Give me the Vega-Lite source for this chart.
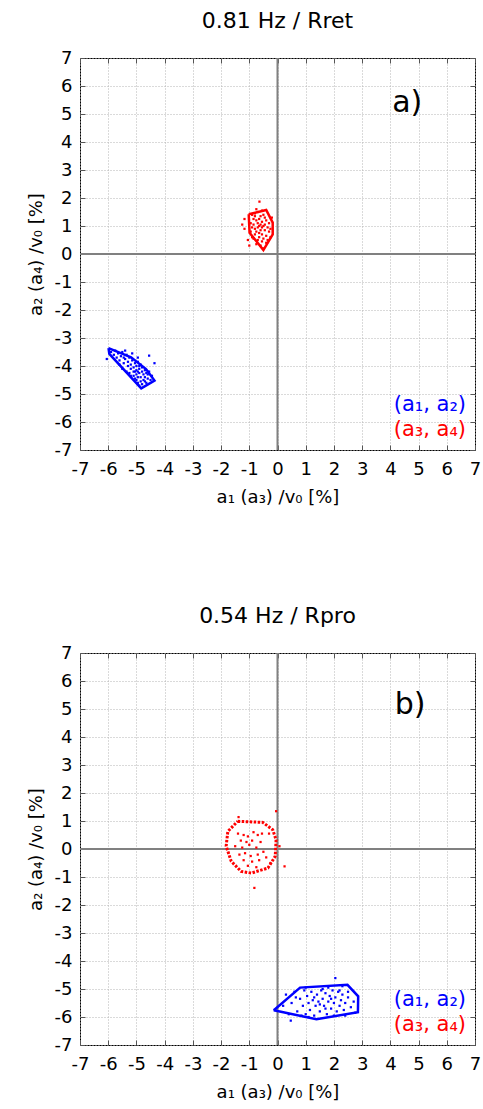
{
  "$schema": "https://vega.github.io/schema/vega-lite/v6.json",
  "padding": {"left": 26, "top": 9, "right": 4, "bottom": 4},
  "spacing": 97,
  "config": {
    "view": {"stroke": "black", "strokeWidth": 1},
    "font": "DejaVu Sans",
    "title": {"font": "DejaVu Sans", "fontSize": 22, "fontWeight": "normal", "color": "black", "offset": 16},
    "axis": {
      "labelFont": "DejaVu Sans", "labelFontSize": 18, "labelColor": "black",
      "titleFont": "DejaVu Sans", "titleFontSize": 18, "titleFontWeight": "normal", "titleColor": "black",
      "domain": false, "tickColor": "#555555", "tickSize": -5, "labelPadding": 15,
      "gridColor": "#b4b4b4", "gridDash": [1, 2], "gridWidth": 1,
      "labelFlush": false, "labelOverlap": false,
      "labelExpr": "datum.value < 0 ? '-' + abs(datum.value) : '' + datum.value"
    }
  },
  "datasets": {
    "hulls": [
      {"panel": "a", "pair": "(a1, a2)", "ord": 1, "x": -5.99, "y": -3.36},
      {"panel": "a", "pair": "(a1, a2)", "ord": 2, "x": -5.19, "y": -3.69},
      {"panel": "a", "pair": "(a1, a2)", "ord": 3, "x": -4.66, "y": -4.11},
      {"panel": "a", "pair": "(a1, a2)", "ord": 4, "x": -4.36, "y": -4.52},
      {"panel": "a", "pair": "(a1, a2)", "ord": 5, "x": -4.83, "y": -4.8},
      {"panel": "a", "pair": "(a1, a2)", "ord": 6, "x": -5.96, "y": -3.57},
      {"panel": "a", "pair": "(a1, a2)", "ord": 7, "x": -5.99, "y": -3.36},
      {"panel": "a", "pair": "(a3, a4)", "ord": 1, "x": -1.02, "y": 1.42},
      {"panel": "a", "pair": "(a3, a4)", "ord": 2, "x": -0.4, "y": 1.57},
      {"panel": "a", "pair": "(a3, a4)", "ord": 3, "x": -0.17, "y": 1.12},
      {"panel": "a", "pair": "(a3, a4)", "ord": 4, "x": -0.17, "y": 0.7},
      {"panel": "a", "pair": "(a3, a4)", "ord": 5, "x": -0.5, "y": 0.14},
      {"panel": "a", "pair": "(a3, a4)", "ord": 6, "x": -0.99, "y": 0.76},
      {"panel": "a", "pair": "(a3, a4)", "ord": 7, "x": -1.02, "y": 1.42},
      {"panel": "b", "pair": "(a1, a2)", "ord": 1, "x": -0.13, "y": -5.76},
      {"panel": "b", "pair": "(a1, a2)", "ord": 2, "x": 0.8, "y": -4.95},
      {"panel": "b", "pair": "(a1, a2)", "ord": 3, "x": 2.48, "y": -4.85},
      {"panel": "b", "pair": "(a1, a2)", "ord": 4, "x": 2.86, "y": -5.26},
      {"panel": "b", "pair": "(a1, a2)", "ord": 5, "x": 2.85, "y": -5.83},
      {"panel": "b", "pair": "(a1, a2)", "ord": 6, "x": 1.38, "y": -6.08},
      {"panel": "b", "pair": "(a1, a2)", "ord": 7, "x": -0.13, "y": -5.76},
      {"panel": "b", "pair": "(a3, a4)", "ord": 1, "x": -1.41, "y": 0.99},
      {"panel": "b", "pair": "(a3, a4)", "ord": 2, "x": -0.52, "y": 0.95},
      {"panel": "b", "pair": "(a3, a4)", "ord": 3, "x": -0.17, "y": 0.69},
      {"panel": "b", "pair": "(a3, a4)", "ord": 4, "x": -0.05, "y": 0.33},
      {"panel": "b", "pair": "(a3, a4)", "ord": 5, "x": -0.08, "y": -0.26},
      {"panel": "b", "pair": "(a3, a4)", "ord": 6, "x": -0.34, "y": -0.68},
      {"panel": "b", "pair": "(a3, a4)", "ord": 7, "x": -0.93, "y": -0.86},
      {"panel": "b", "pair": "(a3, a4)", "ord": 8, "x": -1.29, "y": -0.8},
      {"panel": "b", "pair": "(a3, a4)", "ord": 9, "x": -1.64, "y": -0.44},
      {"panel": "b", "pair": "(a3, a4)", "ord": 10, "x": -1.82, "y": 0.1},
      {"panel": "b", "pair": "(a3, a4)", "ord": 11, "x": -1.76, "y": 0.63},
      {"panel": "b", "pair": "(a3, a4)", "ord": 12, "x": -1.41, "y": 0.99}
    ],
    "dots": [
      {"panel": "a", "pair": "(a1, a2)", "x": -5.9, "y": -3.5},
      {"panel": "a", "pair": "(a1, a2)", "x": -5.8, "y": -3.6},
      {"panel": "a", "pair": "(a1, a2)", "x": -5.75, "y": -3.45},
      {"panel": "a", "pair": "(a1, a2)", "x": -5.7, "y": -3.7},
      {"panel": "a", "pair": "(a1, a2)", "x": -5.65, "y": -3.55},
      {"panel": "a", "pair": "(a1, a2)", "x": -5.6, "y": -3.8},
      {"panel": "a", "pair": "(a1, a2)", "x": -5.55, "y": -3.65},
      {"panel": "a", "pair": "(a1, a2)", "x": -5.5, "y": -3.5},
      {"panel": "a", "pair": "(a1, a2)", "x": -5.45, "y": -3.9},
      {"panel": "a", "pair": "(a1, a2)", "x": -5.4, "y": -3.75},
      {"panel": "a", "pair": "(a1, a2)", "x": -5.35, "y": -3.6},
      {"panel": "a", "pair": "(a1, a2)", "x": -5.3, "y": -4.0},
      {"panel": "a", "pair": "(a1, a2)", "x": -5.3, "y": -3.85},
      {"panel": "a", "pair": "(a1, a2)", "x": -5.25, "y": -3.7},
      {"panel": "a", "pair": "(a1, a2)", "x": -5.2, "y": -4.1},
      {"panel": "a", "pair": "(a1, a2)", "x": -5.2, "y": -3.95},
      {"panel": "a", "pair": "(a1, a2)", "x": -5.15, "y": -3.8},
      {"panel": "a", "pair": "(a1, a2)", "x": -5.1, "y": -4.2},
      {"panel": "a", "pair": "(a1, a2)", "x": -5.1, "y": -4.05},
      {"panel": "a", "pair": "(a1, a2)", "x": -5.05, "y": -3.9},
      {"panel": "a", "pair": "(a1, a2)", "x": -5.0, "y": -4.3},
      {"panel": "a", "pair": "(a1, a2)", "x": -5.0, "y": -4.15},
      {"panel": "a", "pair": "(a1, a2)", "x": -5.0, "y": -4.0},
      {"panel": "a", "pair": "(a1, a2)", "x": -4.95, "y": -3.85},
      {"panel": "a", "pair": "(a1, a2)", "x": -4.9, "y": -4.25},
      {"panel": "a", "pair": "(a1, a2)", "x": -4.9, "y": -4.1},
      {"panel": "a", "pair": "(a1, a2)", "x": -4.85, "y": -4.4},
      {"panel": "a", "pair": "(a1, a2)", "x": -4.85, "y": -3.95},
      {"panel": "a", "pair": "(a1, a2)", "x": -4.8, "y": -4.2},
      {"panel": "a", "pair": "(a1, a2)", "x": -4.8, "y": -4.05},
      {"panel": "a", "pair": "(a1, a2)", "x": -4.75, "y": -4.5},
      {"panel": "a", "pair": "(a1, a2)", "x": -4.75, "y": -4.3},
      {"panel": "a", "pair": "(a1, a2)", "x": -4.7, "y": -4.15},
      {"panel": "a", "pair": "(a1, a2)", "x": -4.7, "y": -4.4},
      {"panel": "a", "pair": "(a1, a2)", "x": -4.65, "y": -4.6},
      {"panel": "a", "pair": "(a1, a2)", "x": -4.6, "y": -4.3},
      {"panel": "a", "pair": "(a1, a2)", "x": -4.6, "y": -4.45},
      {"panel": "a", "pair": "(a1, a2)", "x": -4.55, "y": -4.2},
      {"panel": "a", "pair": "(a1, a2)", "x": -4.5, "y": -4.5},
      {"panel": "a", "pair": "(a1, a2)", "x": -4.45, "y": -4.35},
      {"panel": "a", "pair": "(a1, a2)", "x": -4.55, "y": -3.63},
      {"panel": "a", "pair": "(a1, a2)", "x": -4.36, "y": -3.9},
      {"panel": "a", "pair": "(a1, a2)", "x": -6.05, "y": -3.75},
      {"panel": "a", "pair": "(a1, a2)", "x": -5.5, "y": -4.1},
      {"panel": "a", "pair": "(a1, a2)", "x": -5.35, "y": -4.2},
      {"panel": "a", "pair": "(a1, a2)", "x": -5.2, "y": -4.35},
      {"panel": "a", "pair": "(a1, a2)", "x": -5.05, "y": -4.45},
      {"panel": "a", "pair": "(a1, a2)", "x": -4.95, "y": -4.6},
      {"panel": "a", "pair": "(a1, a2)", "x": -4.9, "y": -4.7},
      {"panel": "a", "pair": "(a1, a2)", "x": -4.8, "y": -4.65},
      {"panel": "a", "pair": "(a1, a2)", "x": -5.6, "y": -3.95},
      {"panel": "a", "pair": "(a1, a2)", "x": -5.4, "y": -3.45},
      {"panel": "a", "pair": "(a1, a2)", "x": -5.15, "y": -3.55},
      {"panel": "a", "pair": "(a1, a2)", "x": -4.95, "y": -3.7},
      {"panel": "a", "pair": "(a1, a2)", "x": -5.1, "y": -4.35},
      {"panel": "a", "pair": "(a1, a2)", "x": -4.95, "y": -4.4},
      {"panel": "a", "pair": "(a1, a2)", "x": -4.85, "y": -4.55},
      {"panel": "a", "pair": "(a1, a2)", "x": -4.7, "y": -4.55},
      {"panel": "a", "pair": "(a1, a2)", "x": -5.25, "y": -4.25},
      {"panel": "a", "pair": "(a1, a2)", "x": -5.45, "y": -3.7},
      {"panel": "a", "pair": "(a1, a2)", "x": -5.05, "y": -4.2},
      {"panel": "a", "pair": "(a1, a2)", "x": -4.95, "y": -4.2},
      {"panel": "a", "pair": "(a1, a2)", "x": -4.9, "y": -4.0},
      {"panel": "a", "pair": "(a1, a2)", "x": -5.0, "y": -4.5},
      {"panel": "a", "pair": "(a1, a2)", "x": -4.65, "y": -4.25},
      {"panel": "a", "pair": "(a3, a4)", "x": -0.9, "y": 1.4},
      {"panel": "a", "pair": "(a3, a4)", "x": -0.8, "y": 1.45},
      {"panel": "a", "pair": "(a3, a4)", "x": -0.7, "y": 1.5},
      {"panel": "a", "pair": "(a3, a4)", "x": -0.6, "y": 1.35},
      {"panel": "a", "pair": "(a3, a4)", "x": -0.5, "y": 1.4},
      {"panel": "a", "pair": "(a3, a4)", "x": -0.45, "y": 1.3},
      {"panel": "a", "pair": "(a3, a4)", "x": -0.85, "y": 1.25},
      {"panel": "a", "pair": "(a3, a4)", "x": -0.75, "y": 1.2},
      {"panel": "a", "pair": "(a3, a4)", "x": -0.65, "y": 1.25},
      {"panel": "a", "pair": "(a3, a4)", "x": -0.55, "y": 1.15},
      {"panel": "a", "pair": "(a3, a4)", "x": -0.4, "y": 1.2},
      {"panel": "a", "pair": "(a3, a4)", "x": -0.3, "y": 1.1},
      {"panel": "a", "pair": "(a3, a4)", "x": -0.95, "y": 1.1},
      {"panel": "a", "pair": "(a3, a4)", "x": -0.85, "y": 1.05},
      {"panel": "a", "pair": "(a3, a4)", "x": -0.7, "y": 1.1},
      {"panel": "a", "pair": "(a3, a4)", "x": -0.6, "y": 1.05},
      {"panel": "a", "pair": "(a3, a4)", "x": -0.5, "y": 1.0},
      {"panel": "a", "pair": "(a3, a4)", "x": -0.35, "y": 0.95},
      {"panel": "a", "pair": "(a3, a4)", "x": -0.25, "y": 0.9},
      {"panel": "a", "pair": "(a3, a4)", "x": -0.9, "y": 0.95},
      {"panel": "a", "pair": "(a3, a4)", "x": -0.8, "y": 0.9},
      {"panel": "a", "pair": "(a3, a4)", "x": -0.7, "y": 0.95},
      {"panel": "a", "pair": "(a3, a4)", "x": -0.6, "y": 0.85},
      {"panel": "a", "pair": "(a3, a4)", "x": -0.45, "y": 0.85},
      {"panel": "a", "pair": "(a3, a4)", "x": -0.3, "y": 0.8},
      {"panel": "a", "pair": "(a3, a4)", "x": -0.95, "y": 0.8},
      {"panel": "a", "pair": "(a3, a4)", "x": -0.8, "y": 0.7},
      {"panel": "a", "pair": "(a3, a4)", "x": -0.65, "y": 0.75},
      {"panel": "a", "pair": "(a3, a4)", "x": -0.55, "y": 0.7},
      {"panel": "a", "pair": "(a3, a4)", "x": -0.4, "y": 0.65},
      {"panel": "a", "pair": "(a3, a4)", "x": -0.25, "y": 0.6},
      {"panel": "a", "pair": "(a3, a4)", "x": -0.85, "y": 0.55},
      {"panel": "a", "pair": "(a3, a4)", "x": -0.7, "y": 0.5},
      {"panel": "a", "pair": "(a3, a4)", "x": -0.55, "y": 0.45},
      {"panel": "a", "pair": "(a3, a4)", "x": -0.4, "y": 0.4},
      {"panel": "a", "pair": "(a3, a4)", "x": -0.75, "y": 0.35},
      {"panel": "a", "pair": "(a3, a4)", "x": -0.6, "y": 0.3},
      {"panel": "a", "pair": "(a3, a4)", "x": -0.5, "y": 0.2},
      {"panel": "a", "pair": "(a3, a4)", "x": -0.64, "y": 1.87},
      {"panel": "a", "pair": "(a3, a4)", "x": -1.17, "y": 1.25},
      {"panel": "a", "pair": "(a3, a4)", "x": -1.17, "y": 0.9},
      {"panel": "a", "pair": "(a3, a4)", "x": -1.05, "y": 0.5},
      {"panel": "a", "pair": "(a3, a4)", "x": -1.25, "y": 1.05},
      {"panel": "a", "pair": "(a3, a4)", "x": -0.2, "y": 1.3},
      {"panel": "a", "pair": "(a3, a4)", "x": -0.75, "y": 1.6},
      {"panel": "a", "pair": "(a3, a4)", "x": -0.55, "y": 1.55},
      {"panel": "a", "pair": "(a3, a4)", "x": -0.65, "y": 0.6},
      {"panel": "a", "pair": "(a3, a4)", "x": -0.5, "y": 0.55},
      {"panel": "a", "pair": "(a3, a4)", "x": -0.35, "y": 0.5},
      {"panel": "a", "pair": "(a3, a4)", "x": -0.8, "y": 1.35},
      {"panel": "a", "pair": "(a3, a4)", "x": -0.65, "y": 1.0},
      {"panel": "a", "pair": "(a3, a4)", "x": -0.75, "y": 0.8},
      {"panel": "a", "pair": "(a3, a4)", "x": -0.45, "y": 1.05},
      {"panel": "a", "pair": "(a3, a4)", "x": -0.55, "y": 0.95},
      {"panel": "a", "pair": "(a3, a4)", "x": -0.9, "y": 0.6},
      {"panel": "a", "pair": "(a3, a4)", "x": -1.0, "y": 0.3},
      {"panel": "b", "pair": "(a3, a4)", "x": -1.4, "y": 0.55},
      {"panel": "b", "pair": "(a3, a4)", "x": -1.2, "y": 0.5},
      {"panel": "b", "pair": "(a3, a4)", "x": -1.05, "y": 0.45},
      {"panel": "b", "pair": "(a3, a4)", "x": -0.85, "y": 0.6},
      {"panel": "b", "pair": "(a3, a4)", "x": -0.7, "y": 0.5},
      {"panel": "b", "pair": "(a3, a4)", "x": -0.55, "y": 0.55},
      {"panel": "b", "pair": "(a3, a4)", "x": -1.3, "y": 0.3},
      {"panel": "b", "pair": "(a3, a4)", "x": -1.1, "y": 0.25},
      {"panel": "b", "pair": "(a3, a4)", "x": -0.9, "y": 0.3},
      {"panel": "b", "pair": "(a3, a4)", "x": -0.6, "y": 0.25},
      {"panel": "b", "pair": "(a3, a4)", "x": -1.5, "y": 0.1},
      {"panel": "b", "pair": "(a3, a4)", "x": -1.25, "y": 0.05},
      {"panel": "b", "pair": "(a3, a4)", "x": -1.0, "y": 0.15},
      {"panel": "b", "pair": "(a3, a4)", "x": -0.75, "y": 0.05},
      {"panel": "b", "pair": "(a3, a4)", "x": -1.35, "y": -0.2},
      {"panel": "b", "pair": "(a3, a4)", "x": -1.15, "y": -0.15},
      {"panel": "b", "pair": "(a3, a4)", "x": -0.95, "y": -0.25},
      {"panel": "b", "pair": "(a3, a4)", "x": -0.7, "y": -0.2},
      {"panel": "b", "pair": "(a3, a4)", "x": -0.5, "y": -0.1},
      {"panel": "b", "pair": "(a3, a4)", "x": -1.2, "y": -0.4},
      {"panel": "b", "pair": "(a3, a4)", "x": -0.9, "y": -0.45},
      {"panel": "b", "pair": "(a3, a4)", "x": -0.65, "y": -0.4},
      {"panel": "b", "pair": "(a3, a4)", "x": -0.4, "y": -0.3},
      {"panel": "b", "pair": "(a3, a4)", "x": -1.05, "y": -0.6},
      {"panel": "b", "pair": "(a3, a4)", "x": -0.75, "y": -0.65},
      {"panel": "b", "pair": "(a3, a4)", "x": -0.05, "y": 1.35},
      {"panel": "b", "pair": "(a3, a4)", "x": -1.38, "y": 1.14},
      {"panel": "b", "pair": "(a3, a4)", "x": 0.25, "y": -0.62},
      {"panel": "b", "pair": "(a3, a4)", "x": -0.82, "y": -1.39},
      {"panel": "b", "pair": "(a3, a4)", "x": 0.07, "y": 0.1},
      {"panel": "b", "pair": "(a3, a4)", "x": -0.3, "y": 0.55},
      {"panel": "b", "pair": "(a3, a4)", "x": -0.25, "y": -0.5},
      {"panel": "b", "pair": "(a1, a2)", "x": 0.3, "y": -5.2},
      {"panel": "b", "pair": "(a1, a2)", "x": 0.5, "y": -5.5},
      {"panel": "b", "pair": "(a1, a2)", "x": 0.6, "y": -5.1},
      {"panel": "b", "pair": "(a1, a2)", "x": 0.7, "y": -5.8},
      {"panel": "b", "pair": "(a1, a2)", "x": 0.8, "y": -5.35},
      {"panel": "b", "pair": "(a1, a2)", "x": 0.9, "y": -5.6},
      {"panel": "b", "pair": "(a1, a2)", "x": 0.95, "y": -5.05},
      {"panel": "b", "pair": "(a1, a2)", "x": 1.0, "y": -5.9},
      {"panel": "b", "pair": "(a1, a2)", "x": 1.05, "y": -5.25},
      {"panel": "b", "pair": "(a1, a2)", "x": 1.1, "y": -5.5},
      {"panel": "b", "pair": "(a1, a2)", "x": 1.15, "y": -5.75},
      {"panel": "b", "pair": "(a1, a2)", "x": 1.2, "y": -5.1},
      {"panel": "b", "pair": "(a1, a2)", "x": 1.25, "y": -5.4},
      {"panel": "b", "pair": "(a1, a2)", "x": 1.3, "y": -5.95},
      {"panel": "b", "pair": "(a1, a2)", "x": 1.35, "y": -5.6},
      {"panel": "b", "pair": "(a1, a2)", "x": 1.4, "y": -5.2},
      {"panel": "b", "pair": "(a1, a2)", "x": 1.45, "y": -5.45},
      {"panel": "b", "pair": "(a1, a2)", "x": 1.5, "y": -5.8},
      {"panel": "b", "pair": "(a1, a2)", "x": 1.55, "y": -5.05},
      {"panel": "b", "pair": "(a1, a2)", "x": 1.6, "y": -5.35},
      {"panel": "b", "pair": "(a1, a2)", "x": 1.65, "y": -5.6},
      {"panel": "b", "pair": "(a1, a2)", "x": 1.7, "y": -5.15},
      {"panel": "b", "pair": "(a1, a2)", "x": 1.75, "y": -5.9},
      {"panel": "b", "pair": "(a1, a2)", "x": 1.8, "y": -5.45},
      {"panel": "b", "pair": "(a1, a2)", "x": 1.85, "y": -5.25},
      {"panel": "b", "pair": "(a1, a2)", "x": 1.9, "y": -5.7},
      {"panel": "b", "pair": "(a1, a2)", "x": 1.95, "y": -5.05},
      {"panel": "b", "pair": "(a1, a2)", "x": 2.0, "y": -5.5},
      {"panel": "b", "pair": "(a1, a2)", "x": 2.05, "y": -5.3},
      {"panel": "b", "pair": "(a1, a2)", "x": 2.1, "y": -5.8},
      {"panel": "b", "pair": "(a1, a2)", "x": 2.15, "y": -5.1},
      {"panel": "b", "pair": "(a1, a2)", "x": 2.2, "y": -5.6},
      {"panel": "b", "pair": "(a1, a2)", "x": 2.25, "y": -5.4},
      {"panel": "b", "pair": "(a1, a2)", "x": 2.3, "y": -5.2},
      {"panel": "b", "pair": "(a1, a2)", "x": 2.35, "y": -5.75},
      {"panel": "b", "pair": "(a1, a2)", "x": 2.4, "y": -5.5},
      {"panel": "b", "pair": "(a1, a2)", "x": 2.5, "y": -5.3},
      {"panel": "b", "pair": "(a1, a2)", "x": 2.6, "y": -5.65},
      {"panel": "b", "pair": "(a1, a2)", "x": 2.7, "y": -5.45},
      {"panel": "b", "pair": "(a1, a2)", "x": 2.75, "y": -5.85},
      {"panel": "b", "pair": "(a1, a2)", "x": 2.05, "y": -4.61},
      {"panel": "b", "pair": "(a1, a2)", "x": 0.47, "y": -6.13},
      {"panel": "b", "pair": "(a1, a2)", "x": -0.1, "y": -5.75},
      {"panel": "b", "pair": "(a1, a2)", "x": 0.2, "y": -5.6},
      {"panel": "b", "pair": "(a1, a2)", "x": 0.4, "y": -5.9},
      {"panel": "b", "pair": "(a1, a2)", "x": 1.0, "y": -4.95},
      {"panel": "b", "pair": "(a1, a2)", "x": 1.8, "y": -4.95},
      {"panel": "b", "pair": "(a1, a2)", "x": 2.3, "y": -4.9},
      {"panel": "b", "pair": "(a1, a2)", "x": 1.3, "y": -5.3},
      {"panel": "b", "pair": "(a1, a2)", "x": 1.5, "y": -5.55},
      {"panel": "b", "pair": "(a1, a2)", "x": 1.7, "y": -5.7},
      {"panel": "b", "pair": "(a1, a2)", "x": 1.9, "y": -5.35},
      {"panel": "b", "pair": "(a1, a2)", "x": 2.0, "y": -5.95},
      {"panel": "b", "pair": "(a1, a2)", "x": 2.4, "y": -5.95},
      {"panel": "b", "pair": "(a1, a2)", "x": 1.1, "y": -6.0},
      {"panel": "b", "pair": "(a1, a2)", "x": 0.85, "y": -5.95},
      {"panel": "b", "pair": "(a1, a2)", "x": 1.6, "y": -5.0},
      {"panel": "b", "pair": "(a1, a2)", "x": 2.2, "y": -5.05},
      {"panel": "b", "pair": "(a1, a2)", "x": 0.65, "y": -5.3},
      {"panel": "b", "pair": "(a1, a2)", "x": 2.5, "y": -5.1}
    ],
    "keys": [
      {"panel": "a", "pair": "(a1, a2)", "label": "(a₁, a₂)", "x": 5.4, "y": -5.4},
      {"panel": "a", "pair": "(a3, a4)", "label": "(a₃, a₄)", "x": 5.4, "y": -6.3},
      {"panel": "b", "pair": "(a1, a2)", "label": "(a₁, a₂)", "x": 5.4, "y": -5.4},
      {"panel": "b", "pair": "(a3, a4)", "label": "(a₃, a₄)", "x": 5.4, "y": -6.3}
    ],
    "letters": [
      {"panel": "a", "label": "a)", "x": 4.6, "y": 5.4},
      {"panel": "b", "label": "b)", "x": 4.7, "y": 5.15}
    ]
  },
  "vconcat": [
    {
      "title": {"text": "0.81 Hz / Rret"},
      "width": 395,
      "height": 392,
      "resolve": {"axis": {"x": "independent", "y": "independent"}},
      "layer": [
        {
          "data": {"values": [{"v": 0}]},
          "mark": {"type": "rule", "color": "#808080", "strokeWidth": 2},
          "encoding": {"x": {"field": "v", "type": "quantitative", "scale": {"domain": [-7, 7], "nice": false, "zero": false},
            "axis": {"orient": "top", "values": [-7,-6,-5,-4,-3,-2,-1,0,1,2,3,4,5,6,7], "labels": false, "title": null, "grid": false}}}
        },
        {
          "data": {"values": [{"v": 0}]},
          "mark": {"type": "rule", "color": "#808080", "strokeWidth": 2},
          "encoding": {"y": {"field": "v", "type": "quantitative", "scale": {"domain": [-7, 7], "nice": false, "zero": false},
            "axis": {"orient": "right", "values": [-7,-6,-5,-4,-3,-2,-1,0,1,2,3,4,5,6,7], "labels": false, "title": null, "grid": false}}}
        },
        {
          "data": {"name": "hulls"},
          "transform": [{"filter": "datum.panel === 'a'"}],
          "mark": {"type": "line", "strokeWidth": 2.5},
          "encoding": {
            "x": {"field": "x", "type": "quantitative", "scale": {"domain": [-7, 7], "nice": false, "zero": false},
              "axis": {"orient": "bottom", "values": [-7,-6,-5,-4,-3,-2,-1,0,1,2,3,4,5,6,7], "title": "a₁ (a₃) /v₀ [%]", "grid": true, "titlePadding": 10}},
            "y": {"field": "y", "type": "quantitative", "scale": {"domain": [-7, 7], "nice": false, "zero": false},
              "axis": {"orient": "left", "values": [-7,-6,-5,-4,-3,-2,-1,0,1,2,3,4,5,6,7], "title": "a₂ (a₄) /v₀ [%]", "grid": true, "labelPadding": 13, "titlePadding": 9}},
            "color": {"field": "pair", "type": "nominal", "scale": {"domain": ["(a1, a2)", "(a3, a4)"], "range": ["#0000ff", "#ff0000"]}, "legend": null},
            "detail": {"field": "pair"},
            "order": {"field": "ord", "type": "quantitative"}
          }
        },
        {
          "data": {"name": "dots"},
          "transform": [{"filter": "datum.panel === 'a'"}],
          "mark": {"type": "point", "shape": "square", "filled": true, "size": 5, "opacity": 1},
          "encoding": {
            "x": {"field": "x", "type": "quantitative", "axis": null},
            "y": {"field": "y", "type": "quantitative", "axis": null},
            "color": {"field": "pair", "type": "nominal", "legend": null}
          }
        },
        {
          "data": {"name": "keys"},
          "transform": [{"filter": "datum.panel === 'a'"}],
          "mark": {"type": "text", "fontSize": 21, "font": "DejaVu Sans", "align": "center", "baseline": "middle"},
          "encoding": {
            "x": {"field": "x", "type": "quantitative", "axis": null},
            "y": {"field": "y", "type": "quantitative", "axis": null},
            "text": {"field": "label"},
            "color": {"field": "pair", "type": "nominal", "legend": null}
          }
        },
        {
          "data": {"name": "letters"},
          "transform": [{"filter": "datum.panel === 'a'"}],
          "mark": {"type": "text", "fontSize": 30, "font": "DejaVu Sans", "align": "center", "baseline": "middle", "color": "black"},
          "encoding": {
            "x": {"field": "x", "type": "quantitative", "axis": null},
            "y": {"field": "y", "type": "quantitative", "axis": null},
            "text": {"field": "label"}
          }
        }
      ]
    },
    {
      "title": {"text": "0.54 Hz / Rpro"},
      "width": 395,
      "height": 392,
      "resolve": {"axis": {"x": "independent", "y": "independent"}},
      "layer": [
        {
          "data": {"values": [{"v": 0}]},
          "mark": {"type": "rule", "color": "#808080", "strokeWidth": 2},
          "encoding": {"x": {"field": "v", "type": "quantitative", "scale": {"domain": [-7, 7], "nice": false, "zero": false},
            "axis": {"orient": "top", "values": [-7,-6,-5,-4,-3,-2,-1,0,1,2,3,4,5,6,7], "labels": false, "title": null, "grid": false}}}
        },
        {
          "data": {"values": [{"v": 0}]},
          "mark": {"type": "rule", "color": "#808080", "strokeWidth": 2},
          "encoding": {"y": {"field": "v", "type": "quantitative", "scale": {"domain": [-7, 7], "nice": false, "zero": false},
            "axis": {"orient": "right", "values": [-7,-6,-5,-4,-3,-2,-1,0,1,2,3,4,5,6,7], "labels": false, "title": null, "grid": false}}}
        },
        {
          "data": {"name": "hulls"},
          "transform": [{"filter": "datum.panel === 'b' && datum.pair === '(a1, a2)'"}],
          "mark": {"type": "line", "strokeWidth": 2.5},
          "encoding": {
            "x": {"field": "x", "type": "quantitative", "scale": {"domain": [-7, 7], "nice": false, "zero": false},
              "axis": {"orient": "bottom", "values": [-7,-6,-5,-4,-3,-2,-1,0,1,2,3,4,5,6,7], "title": "a₁ (a₃) /v₀ [%]", "grid": true, "titlePadding": 10}},
            "y": {"field": "y", "type": "quantitative", "scale": {"domain": [-7, 7], "nice": false, "zero": false},
              "axis": {"orient": "left", "values": [-7,-6,-5,-4,-3,-2,-1,0,1,2,3,4,5,6,7], "title": "a₂ (a₄) /v₀ [%]", "grid": true, "labelPadding": 13, "titlePadding": 9}},
            "color": {"field": "pair", "type": "nominal", "scale": {"domain": ["(a1, a2)", "(a3, a4)"], "range": ["#0000ff", "#ff0000"]}, "legend": null},
            "order": {"field": "ord", "type": "quantitative"}
          }
        },
        {
          "data": {"name": "hulls"},
          "transform": [{"filter": "datum.panel === 'b' && datum.pair === '(a3, a4)'"}],
          "mark": {"type": "line", "strokeWidth": 3, "strokeDash": [2.5, 1.5]},
          "encoding": {
            "x": {"field": "x", "type": "quantitative", "axis": null},
            "y": {"field": "y", "type": "quantitative", "axis": null},
            "color": {"field": "pair", "type": "nominal", "legend": null},
            "order": {"field": "ord", "type": "quantitative"}
          }
        },
        {
          "data": {"name": "dots"},
          "transform": [{"filter": "datum.panel === 'b'"}],
          "mark": {"type": "point", "shape": "square", "filled": true, "size": 5, "opacity": 1},
          "encoding": {
            "x": {"field": "x", "type": "quantitative", "axis": null},
            "y": {"field": "y", "type": "quantitative", "axis": null},
            "color": {"field": "pair", "type": "nominal", "legend": null}
          }
        },
        {
          "data": {"name": "keys"},
          "transform": [{"filter": "datum.panel === 'b'"}],
          "mark": {"type": "text", "fontSize": 21, "font": "DejaVu Sans", "align": "center", "baseline": "middle"},
          "encoding": {
            "x": {"field": "x", "type": "quantitative", "axis": null},
            "y": {"field": "y", "type": "quantitative", "axis": null},
            "text": {"field": "label"},
            "color": {"field": "pair", "type": "nominal", "legend": null}
          }
        },
        {
          "data": {"name": "letters"},
          "transform": [{"filter": "datum.panel === 'b'"}],
          "mark": {"type": "text", "fontSize": 30, "font": "DejaVu Sans", "align": "center", "baseline": "middle", "color": "black"},
          "encoding": {
            "x": {"field": "x", "type": "quantitative", "axis": null},
            "y": {"field": "y", "type": "quantitative", "axis": null},
            "text": {"field": "label"}
          }
        }
      ]
    }
  ]
}
